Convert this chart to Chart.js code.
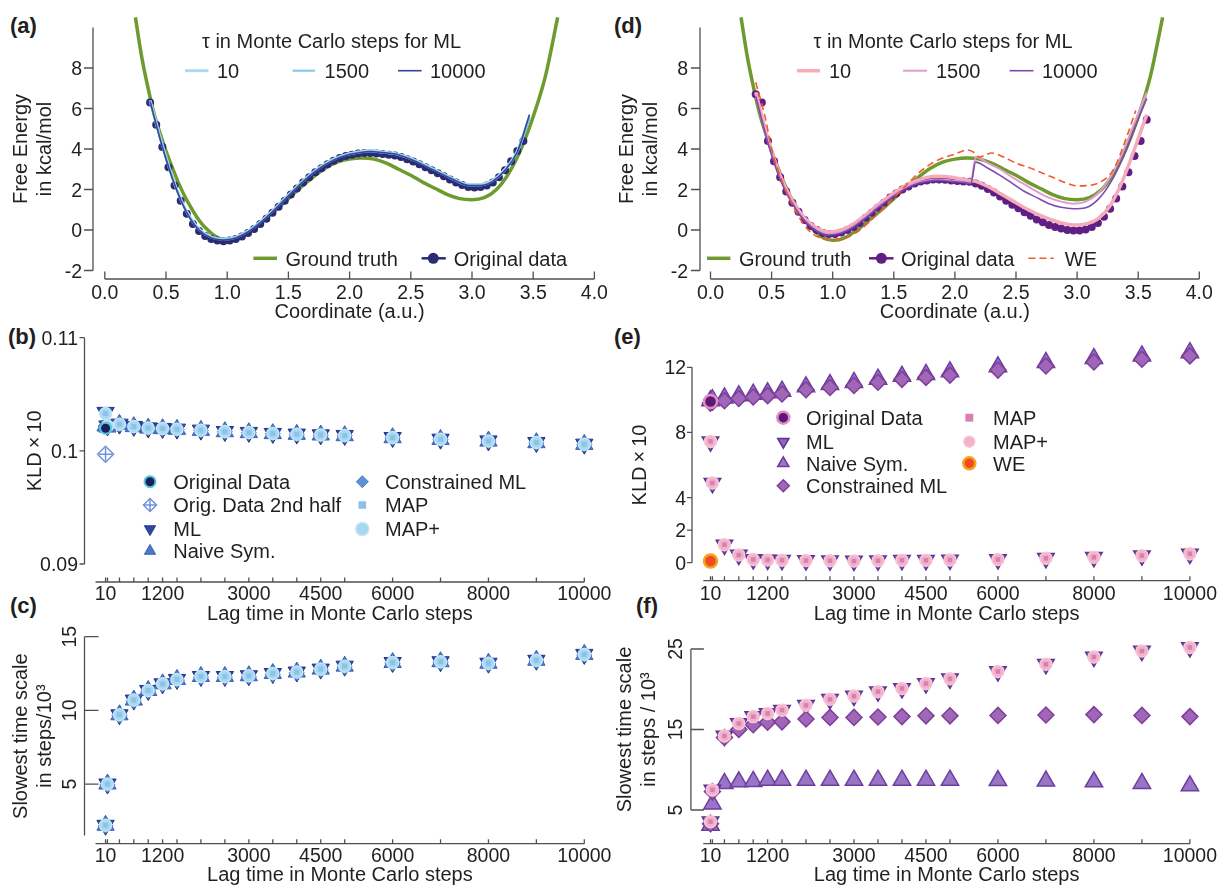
<!DOCTYPE html>
<html>
<head>
<meta charset="utf-8">
<script src="https://cdn.jsdelivr.net/npm/chart.js@4.4.1/dist/chart.umd.min.js"></script>
<style>
  body { margin: 0; background: #fff; width: 1218px; height: 888px; overflow: hidden; position: relative; }
  canvas { position: absolute; }
  .tag { position: absolute; font: bold 22px "Liberation Sans", Arial, sans-serif; line-height: 22px; color: #231f20; }
</style>
</head>
<body>
<div class="tag" style="left:10px;top:15px">(a)</div>
<div class="tag" style="left:614px;top:15px">(d)</div>
<div class="tag" style="left:8px;top:326px">(b)</div>
<div class="tag" style="left:614px;top:326px">(e)</div>
<div class="tag" style="left:10px;top:595px">(c)</div>
<div class="tag" style="left:636px;top:595px">(f)</div>

<canvas id="cb" width="630" height="310" style="left:0;top:325px"></canvas>
<canvas id="ce" width="618" height="310" style="left:600px;top:325px"></canvas>
<canvas id="cc" width="630" height="273" style="left:0;top:615px"></canvas>
<canvas id="cf" width="618" height="273" style="left:600px;top:615px"></canvas>
<canvas id="ca" width="630" height="330" style="left:0;top:0"></canvas>
<canvas id="cd" width="618" height="330" style="left:600px;top:0"></canvas>

<script>
const FONT = '"Liberation Sans", Arial, Helvetica, sans-serif';
const INK = '#231f20';
const AXIS = '#505050';

// ---------- free energy profiles (a), (d) ----------
const gtX = [0.25,0.3,0.35,0.4,0.45,0.5,0.55,0.6,0.65,0.7,0.75,0.8,0.85,0.9,0.95,1.0,1.05,1.1,1.15,1.2,1.3,1.4,1.5,1.6,1.7,1.8,1.9,2.0,2.1,2.2,2.3,2.4,2.5,2.6,2.7,2.8,2.9,3.0,3.1,3.2,3.3,3.4,3.5,3.6,3.7];
const gtY = [10.5,8.6,7.1,5.8,4.8,3.9,3.1,2.35,1.7,1.15,0.65,0.25,-0.05,-0.3,-0.45,-0.5,-0.48,-0.38,-0.2,0.0,0.5,1.0,1.55,2.1,2.6,3.05,3.35,3.5,3.55,3.5,3.3,3.0,2.7,2.35,2.05,1.75,1.55,1.5,1.6,2.0,2.8,4.0,5.6,7.6,10.5];

const aOrigX = [0.37,0.42,0.47,0.52,0.57,0.62,0.67,0.72,0.77,0.82,0.87,0.92,0.97,1.02,1.07,1.12,1.17,1.22,1.27,1.32,1.37,1.42,1.47,1.52,1.57,1.62,1.67,1.72,1.77,1.82,1.87,1.92,1.97,2.02,2.07,2.12,2.17,2.22,2.27,2.32,2.37,2.42,2.47,2.52,2.57,2.62,2.67,2.72,2.77,2.82,2.87,2.92,2.97,3.02,3.07,3.12,3.17,3.22,3.27,3.32,3.37,3.42];
const aOrigY = [6.3,5.2,4.1,3.1,2.2,1.45,0.8,0.3,-0.05,-0.3,-0.45,-0.52,-0.55,-0.52,-0.45,-0.32,-0.15,0.05,0.3,0.55,0.85,1.15,1.45,1.75,2.05,2.35,2.6,2.85,3.05,3.25,3.42,3.55,3.65,3.72,3.78,3.8,3.8,3.78,3.75,3.72,3.68,3.6,3.5,3.38,3.25,3.1,2.95,2.8,2.65,2.5,2.35,2.22,2.12,2.1,2.12,2.2,2.35,2.6,2.95,3.4,3.9,4.4];

const aMlX = [0.37,0.47,0.57,0.67,0.77,0.87,0.97,1.07,1.17,1.27,1.37,1.47,1.57,1.67,1.77,1.87,1.97,2.07,2.17,2.27,2.37,2.47,2.57,2.67,2.77,2.87,2.97,3.07,3.17,3.27,3.37,3.47];
const aMl10 = [6.4,4.2,2.3,0.9,0.05,-0.35,-0.45,-0.35,-0.05,0.4,0.95,1.55,2.15,2.7,3.15,3.5,3.72,3.85,3.92,3.85,3.78,3.6,3.35,3.05,2.75,2.45,2.25,2.25,2.45,3.0,3.9,5.6];
const aMl1500 = [6.3,4.15,2.25,0.88,0.02,-0.38,-0.48,-0.38,-0.08,0.38,0.92,1.52,2.12,2.68,3.12,3.48,3.7,3.82,3.88,3.82,3.75,3.57,3.32,3.02,2.72,2.42,2.2,2.2,2.42,2.95,3.85,5.5];
const aMl10000 = [6.35,4.1,2.25,0.85,0.0,-0.4,-0.5,-0.4,-0.1,0.35,0.9,1.5,2.1,2.65,3.1,3.45,3.68,3.8,3.88,3.82,3.75,3.55,3.3,3.0,2.7,2.42,2.2,2.2,2.4,2.95,3.85,5.7];

const dOrigX = [0.37,0.42,0.47,0.52,0.57,0.62,0.67,0.72,0.77,0.82,0.87,0.92,0.97,1.02,1.07,1.12,1.17,1.22,1.27,1.32,1.37,1.42,1.47,1.52,1.57,1.62,1.67,1.72,1.77,1.82,1.87,1.92,1.97,2.02,2.07,2.12,2.17,2.22,2.27,2.32,2.37,2.42,2.47,2.52,2.57,2.62,2.67,2.72,2.77,2.82,2.87,2.92,2.97,3.02,3.07,3.12,3.17,3.22,3.27,3.32,3.37,3.42,3.47,3.52,3.57];
const dOrigY = [6.7,6.3,4.4,3.4,2.6,1.9,1.35,0.9,0.5,0.2,0.0,-0.15,-0.2,-0.2,-0.12,0.0,0.15,0.35,0.6,0.85,1.1,1.35,1.6,1.8,2.0,2.15,2.3,2.4,2.45,2.5,2.5,2.48,2.45,2.42,2.4,2.38,2.3,2.18,2.02,1.85,1.65,1.45,1.25,1.08,0.88,0.7,0.52,0.38,0.25,0.15,0.07,0.0,-0.03,-0.03,0.02,0.15,0.35,0.65,1.05,1.55,2.15,2.85,3.65,4.4,5.45];

const dMl10X = [0.37,0.47,0.57,0.67,0.77,0.87,0.97,1.07,1.17,1.27,1.37,1.47,1.57,1.67,1.77,1.87,1.97,2.07,2.17,2.27,2.37,2.47,2.57,2.67,2.77,2.87,2.97,3.07,3.17,3.27,3.37,3.47,3.57];
const dMl10 = [6.8,4.5,2.7,1.45,0.6,0.1,-0.1,0.0,0.3,0.75,1.25,1.7,2.1,2.4,2.6,2.65,2.6,2.5,2.4,2.15,1.8,1.45,1.1,0.8,0.55,0.35,0.25,0.3,0.55,1.2,2.4,4.0,5.7];
const dMlJumpX = [0.37,0.47,0.57,0.67,0.77,0.87,0.97,1.07,1.17,1.27,1.37,1.47,1.57,1.67,1.77,1.87,1.97,2.07,2.13,2.17,2.27,2.37,2.47,2.57,2.67,2.77,2.87,2.97,3.07,3.17,3.27,3.37,3.47,3.57];
const dMl1500 = [6.7,4.4,2.6,1.4,0.5,0.0,-0.2,-0.1,0.2,0.65,1.15,1.6,2.0,2.3,2.45,2.5,2.45,2.4,2.35,3.6,3.3,3.0,2.6,2.25,1.9,1.6,1.4,1.3,1.4,1.8,2.6,3.8,5.3,6.8];
const dMl10000 = [6.6,4.3,2.5,1.3,0.45,-0.05,-0.25,-0.15,0.15,0.6,1.1,1.55,1.95,2.25,2.4,2.45,2.4,2.35,2.3,3.35,3.05,2.7,2.3,1.9,1.6,1.3,1.12,1.05,1.1,1.5,2.3,3.5,5.0,6.5];

const weX = [0.37,0.45,0.5,0.6,0.7,0.8,0.9,1.0,1.1,1.2,1.3,1.4,1.5,1.6,1.7,1.8,1.9,2.0,2.1,2.15,2.2,2.25,2.3,2.4,2.5,2.6,2.7,2.8,2.9,3.0,3.1,3.2,3.3,3.4,3.48];
const weY = [7.3,5.5,4.0,2.2,0.9,0.0,-0.4,-0.5,-0.4,-0.1,0.4,1.0,1.6,2.2,2.8,3.25,3.55,3.75,3.95,3.85,3.6,3.7,3.8,3.6,3.3,3.1,2.85,2.6,2.35,2.18,2.2,2.4,3.0,4.5,5.9];

// ---------- lag-time panels (b), (c), (e), (f) ----------
const lags = [10,50,300,600,900,1200,1500,2000,2500,3000,3500,4000,4500,5000,6000,7000,8000,9000,10000];
const lagTickLabels = ['10','','','','','1200','','','','3000','','','4500','','6000','','8000','','10000'];

const bML    = [0.1034,0.1022,0.10236,0.10216,0.10203,0.10198,0.10192,0.10183,0.10171,0.10163,0.10154,0.10148,0.10142,0.10136,0.10118,0.10103,0.10088,0.10074,0.10059];
const bNaive = [0.1022,0.1021,0.10234,0.10214,0.10201,0.10196,0.1019,0.10181,0.10169,0.10161,0.10152,0.10146,0.1014,0.10134,0.10116,0.10101,0.10086,0.10072,0.10057];
const bCon   = [0.1022,0.1021,0.10232,0.10212,0.102,0.10195,0.10189,0.1018,0.10168,0.1016,0.10151,0.10145,0.10139,0.10133,0.10115,0.101,0.10085,0.10071,0.10056];
const bMAP   = [0.1033,0.1022,0.10235,0.10215,0.10202,0.10197,0.10191,0.10182,0.1017,0.10162,0.10153,0.10147,0.10141,0.10135,0.10117,0.10102,0.10087,0.10073,0.10058];
const bMAPp  = [0.1033,0.1022,0.10235,0.10215,0.10202,0.10197,0.10191,0.10182,0.1017,0.10162,0.10153,0.10147,0.10141,0.10135,0.10117,0.10102,0.10087,0.10073,0.10058];
const bOrigX = [10], bOrigY = [0.102];
const b2ndX = [10], b2ndY = [0.0997];

const cML    = [2.2,5.0,9.7,10.7,11.35,11.8,12.1,12.3,12.3,12.35,12.5,12.6,12.8,13.0,13.25,13.3,13.2,13.4,13.8];
const cNaive = [2.2,5.0,9.7,10.7,11.35,11.8,12.1,12.3,12.3,12.35,12.5,12.6,12.8,13.0,13.25,13.3,13.2,13.4,13.8];
const cCon   = [2.15,4.95,9.65,10.65,11.3,11.75,12.05,12.25,12.25,12.3,12.45,12.55,12.75,12.95,13.2,13.25,13.15,13.35,13.75];
const cMAP   = [2.2,5.0,9.7,10.7,11.35,11.8,12.1,12.3,12.3,12.35,12.5,12.6,12.8,13.0,13.25,13.3,13.2,13.4,13.8];
const cMAPp  = [2.2,5.0,9.7,10.7,11.35,11.8,12.1,12.3,12.3,12.35,12.5,12.6,12.8,13.0,13.25,13.3,13.2,13.4,13.8];

const eNaive = [9.95,10.0,10.12,10.25,10.35,10.43,10.53,10.8,10.94,11.07,11.27,11.45,11.56,11.72,12.03,12.29,12.54,12.7,12.9];
const eCon   = [9.8,9.85,9.95,10.08,10.18,10.26,10.36,10.62,10.76,10.88,11.08,11.26,11.38,11.52,11.83,12.08,12.33,12.5,12.7];
const eML    = [7.43,4.88,1.09,0.47,0.2,0.17,0.15,0.13,0.12,0.1,0.12,0.15,0.15,0.17,0.2,0.27,0.33,0.43,0.53];
const eMAP   = [7.45,4.9,1.1,0.47,0.2,0.17,0.15,0.13,0.12,0.1,0.12,0.15,0.15,0.17,0.2,0.27,0.33,0.43,0.55];
const eMAPp  = [7.45,4.9,1.1,0.47,0.2,0.17,0.15,0.13,0.12,0.1,0.12,0.15,0.15,0.17,0.2,0.27,0.33,0.43,0.55];
const eOrigX = [10], eOrigY = [9.9];
const eWeX = [10], eWeY = [0.1];

const fML    = [3.55,7.5,14.2,15.75,16.6,17.0,17.4,18.0,18.75,19.15,19.7,20.1,20.7,21.3,22.2,23.1,24.0,24.75,25.2];
const fCon   = [3.3,7.3,14.0,15.0,15.6,15.9,15.95,16.3,16.5,16.5,16.55,16.6,16.7,16.7,16.75,16.8,16.85,16.75,16.6];
const fNaive = [3.1,5.75,8.3,8.5,8.55,8.7,8.7,8.7,8.7,8.7,8.7,8.7,8.7,8.7,8.65,8.6,8.5,8.3,8.0];
const fMAP   = [3.55,7.5,14.2,15.75,16.6,17.0,17.4,18.0,18.75,19.15,19.7,20.1,20.7,21.3,22.2,23.1,24.0,24.75,25.2];
const fMAPp  = [3.55,7.5,14.2,15.75,16.6,17.0,17.4,18.0,18.75,19.15,19.7,20.1,20.7,21.3,22.2,23.1,24.0,24.75,25.2];

// ---------- ticks ----------
const coordTicks = [0,0.5,1,1.5,2,2.5,3,3.5,4];
const coordTickLabels = ['0.0','0.5','1.0','1.5','2.0','2.5','3.0','3.5','4.0'];
const feTicks = [-2,0,2,4,6,8];
const feTickLabels = ['-2','0','2','4','6','8'];
const bTicks = [0.09,0.1,0.11];
const bTickLabels = ['0.09','0.1','0.11'];
const eTicks = [0,2,4,8,12];
const eTickLabels = ['0','2','4','8','12'];
const cTicks = [5,10,15];
const cTickLabels = ['5','10','15'];
const fTicks = [5,15,25];
const fTickLabels = ['5','15','25'];

function pts(xs, ys) { return xs.map((x, i) => ({ x: x, y: ys[i] })); }

function line(label, xs, ys, color, width, dash) {
  return { label, data: pts(xs, ys), showLine: true, borderColor: color, backgroundColor: color,
           borderWidth: width, borderDash: dash || [], pointRadius: 0,
           cubicInterpolationMode: 'monotone', clip: false };
}
// big hover radius only widens the "in area" test so marks just outside the axes still draw
function marks(label, xs, ys, style, r, fill, edge, bw, rot) {
  return { label, data: pts(xs, ys), showLine: false, pointStyle: style, pointRadius: r,
           pointHoverRadius: 40, pointRotation: rot || 0, pointBackgroundColor: fill, pointBorderColor: edge,
           pointBorderWidth: bw, backgroundColor: fill, borderColor: edge, clip: false };
}

function drawMark(ctx, d, x, y, r) {
  ctx.fillStyle = d.pointBackgroundColor;
  ctx.strokeStyle = d.pointBorderColor;
  ctx.lineWidth = d.pointBorderWidth;
  Chart.helpers.drawPoint(ctx, { pointStyle: d.pointStyle, rotation: d.pointRotation || 0,
    radius: r || d.pointRadius, borderWidth: d.pointBorderWidth }, x, y);
}

function text(ctx, s, x, y, size, align) {
  ctx.font = size + 'px ' + FONT;
  ctx.fillStyle = INK;
  ctx.textAlign = align || 'left';
  ctx.textBaseline = 'alphabetic';
  ctx.fillText(s, x, y + size * 0.36);
}

// offset axes: lines, tick marks and tick labels drawn on the chart's own scales
function axesPlugin(o) {
  return {
    id: 'axesStyle',
    afterDraw(chart) {
      const ctx = chart.ctx, xs = chart.scales.x, ys = chart.scales.y;
      ctx.save();
      ctx.strokeStyle = AXIS;
      ctx.lineWidth = 1.3;
      ctx.beginPath();
      ctx.moveTo(o.yLineX, ys.getPixelForValue(o.yRange[1]));
      ctx.lineTo(o.yLineX, ys.getPixelForValue(o.yRange[0]));
      o.yTicks.forEach(v => {
        const p = ys.getPixelForValue(v);
        ctx.moveTo(o.yLineX, p);
        ctx.lineTo(o.yLineX + o.yTickDir * o.yTickLen, p);
      });
      ctx.moveTo(xs.getPixelForValue(o.xRange[0]), o.xLineY);
      ctx.lineTo(xs.getPixelForValue(o.xRange[1]), o.xLineY);
      o.xTicks.forEach(v => {
        const p = xs.getPixelForValue(v);
        ctx.moveTo(p, o.xLineY);
        ctx.lineTo(p, o.xLineY - o.xTickLen);
      });
      ctx.stroke();

      o.yTicks.forEach((v, i) => {
        const p = ys.getPixelForValue(v);
        if (o.yRot) {
          ctx.save();
          ctx.translate(o.yLabelX, p);
          ctx.rotate(-Math.PI / 2);
          ctx.font = '19.5px ' + FONT;
          ctx.fillStyle = INK;
          ctx.textAlign = 'center';
          ctx.textBaseline = 'middle';
          ctx.fillText(o.yLabels[i], 0, 0);
          ctx.restore();
        } else {
          text(ctx, o.yLabels[i], o.yLabelX, p, 19.5, 'right');
        }
      });
      o.xTicks.forEach((v, i) => {
        if (o.xLabels[i]) text(ctx, o.xLabels[i], xs.getPixelForValue(v), o.xLabelY, 19.5, 'center');
      });
      ctx.restore();
    }
  };
}

// hand-placed legends, samples styled from the datasets themselves
function legendPlugin(items) {
  return {
    id: 'panelLegend',
    afterDraw(chart) {
      const ctx = chart.ctx;
      const find = l => chart.data.datasets.find(d => d.label === l);
      ctx.save();
      items.forEach(it => {
        [].concat(it.ds || []).forEach(l => {
          const d = find(l);
          if (it.x2 !== undefined) {
            ctx.strokeStyle = it.lineColor || d.borderColor;
            ctx.lineWidth = it.lineWidth || d.borderWidth;
            ctx.setLineDash(d.borderDash || []);
            ctx.beginPath();
            ctx.moveTo(it.x1, it.y);
            ctx.lineTo(it.x2, it.y);
            ctx.stroke();
            ctx.setLineDash([]);
          }
          if (it.mx !== undefined) drawMark(ctx, d, it.mx, it.y, it.r);
        });
        if (it.text) text(ctx, it.text, it.tx, it.y, 20, it.align);
      });
      ctx.restore();
    }
  };
}

function makeChart(id, c) {
  return new Chart(document.getElementById(id), {
    type: 'scatter',
    data: { datasets: c.datasets },
    options: {
      responsive: false,
      animation: false,
      events: [],
      layout: { padding: c.pad, autoPadding: false },
      plugins: { legend: { display: false }, tooltip: { enabled: false } },
      scales: {
        x: {
          type: 'linear', min: c.x[0], max: c.x[1],
          grid: { display: false, drawTicks: false }, border: { display: false }, ticks: { display: false },
          title: { display: true, text: c.xTitle, color: INK, font: { family: FONT, size: 20, lineHeight: 1.2 }, padding: { top: 0, bottom: 0 } },
          afterFit: s => { s.height = c.xH; }
        },
        y: {
          type: 'linear', min: c.y[0], max: c.y[1],
          grid: { display: false, drawTicks: false }, border: { display: false }, ticks: { display: false },
          title: { display: true, text: c.yTitle, color: INK, font: { family: FONT, size: 20, lineHeight: 1.2 }, padding: { top: c.yTitlePad, bottom: 0 } },
          afterFit: s => { s.width = c.yW; }
        }
      }
    },
    plugins: [axesPlugin(c.axes), legendPlugin(c.legend)]
  });
}

// ---------- (a) ----------
makeChart('ca', {
  x: [0, 4], y: [-2, 10], yW: 104.8, xH: 54.2, pad: { left: 0, top: 27.5, right: 35.6, bottom: 5.3 },
  xTitle: 'Coordinate (a.u.)', yTitle: ['Free Energy', 'in kcal/mol'], yTitlePad: 9.5,
  datasets: [
    line('ML 10000', aMlX, aMl10000, '#33459b', 1.6),
    line('ML 1500', aMlX, aMl1500, '#86c3e8', 2),
    line('ML 10', aMlX, aMl10, '#a9dcf1', 3),
    marks('Original data', aOrigX, aOrigY, 'circle', 4, '#2a2b72', '#2a2b72', 0),
    line('Ground truth', gtX, gtY, '#6e9a2e', 3.5)
  ],
  axes: { yLineX: 93, yRange: [-2, 10], yTicks: feTicks, yLabels: feTickLabels, yTickDir: -1, yTickLen: 9, yLabelX: 82,
          xLineY: 279, xRange: [0, 4], xTicks: coordTicks, xLabels: coordTickLabels, xTickLen: 7.5, xLabelY: 291.7 },
  legend: [
    { text: '\u03c4 in Monte Carlo steps for ML', tx: 331.5, y: 40.7, align: 'center' },
    { ds: 'ML 10', x1: 185, x2: 208.5, y: 70.7, text: '10', tx: 217 },
    { ds: 'ML 1500', x1: 292.5, x2: 315, y: 70.7, text: '1500', tx: 324.6 },
    { ds: 'ML 10000', x1: 398, x2: 421.6, y: 70.7, text: '10000', tx: 430 },
    { ds: 'Ground truth', x1: 253.4, x2: 277, y: 258.3, text: 'Ground truth', tx: 285.5 },
    { ds: 'Original data', x1: 421.6, x2: 445.8, mx: 433.3, r: 5.5, lineColor: '#2a2b72', lineWidth: 2.5, y: 258.3, text: 'Original data', tx: 453.7 }
  ]
});

// ---------- (d) ----------
makeChart('cd', {
  x: [0, 4], y: [-2, 10], yW: 110.5, xH: 54.2, pad: { left: 0, top: 27.5, right: 18.7, bottom: 5.3 },
  xTitle: 'Coordinate (a.u.)', yTitle: ['Free Energy', 'in kcal/mol'], yTitlePad: 15.5,
  datasets: [
    line('WE', weX, weY, '#f15a2b', 1.6, [7, 4]),
    line('ML 10000', dMlJumpX, dMl10000, '#7a4ab0', 1.6),
    line('ML 1500', dMlJumpX, dMl1500, '#e39bcb', 2),
    line('ML 10', dMl10X, dMl10, '#f5abb9', 3.5),
    marks('Original data', dOrigX, dOrigY, 'circle', 4, '#5f1f83', '#5f1f83', 0),
    line('Ground truth', gtX, gtY, '#6e9a2e', 3.5)
  ],
  axes: { yLineX: 100, yRange: [-2, 10], yTicks: feTicks, yLabels: feTickLabels, yTickDir: -1, yTickLen: 9, yLabelX: 88.2,
          xLineY: 279, xRange: [0, 4], xTicks: coordTicks, xLabels: coordTickLabels, xTickLen: 7.5, xLabelY: 291.7 },
  legend: [
    { text: '\u03c4 in Monte Carlo steps for ML', tx: 343, y: 40.7, align: 'center' },
    { ds: 'ML 10', x1: 197, x2: 220, y: 70.7, text: '10', tx: 229 },
    { ds: 'ML 1500', x1: 303, x2: 327, y: 70.7, text: '1500', tx: 336 },
    { ds: 'ML 10000', x1: 409.6, x2: 433.5, y: 70.7, text: '10000', tx: 442 },
    { ds: 'Ground truth', x1: 107, x2: 130.4, y: 258.3, text: 'Ground truth', tx: 139 },
    { ds: 'Original data', x1: 269, x2: 293.5, mx: 281.4, r: 5.5, lineColor: '#5f1f83', lineWidth: 2.5, y: 258.3, text: 'Original data', tx: 301 },
    { ds: 'WE', x1: 428.4, x2: 453.8, y: 258.3, text: 'WE', tx: 464.8 }
  ]
});

// ---------- blue marker set (b), (c) ----------
function blueSet(ml, naive, con, map, mapp) {
  return [
    marks('MAP', lags, map, 'rect', 3.5, '#8dc2e7', '#8dc2e7', 0),
    marks('MAP+', lags, mapp, 'circle', 6, '#a8d8f1', '#c2e5f6', 1.5),
    marks('Constrained ML', lags, con, 'rectRot', 7.5, '#5d93d4', '#4f83c8', 1),
    marks('Naive Sym.', lags, naive, 'triangle', 10, '#4e78c6', '#3b62b4', 1),
    marks('ML', lags, ml, 'triangle', 10, '#3047a0', '#24368c', 1, 180)
  ];
}

makeChart('cb', {
  x: [-200, 10000], y: [0.09, 0.11], yW: 95.5, xH: 62.3, pad: { left: 0, top: 12.7, right: 45.7, bottom: 8.7 },
  xTitle: 'Lag time in Monte Carlo steps', yTitle: 'KLD\u2009\u00d7\u200910', yTitlePad: 23.2,
  datasets: [
    marks('Original Data', bOrigX, bOrigY, 'circle', 5.5, '#1d1f5c', '#5ac7d7', 2),
    marks('2nd cross', b2ndX, b2ndY, 'cross', 6.5, 'rgba(0,0,0,0)', '#6f93d8', 1.5),
    marks('Orig. Data 2nd half', b2ndX, b2ndY, 'rectRot', 8, 'rgba(0,0,0,0)', '#6f93d8', 1.5)
  ].concat(blueSet(bML, bNaive, bCon, bMAP, bMAPp)),
  axes: { yLineX: 84.5, yRange: [0.09, 0.11], yTicks: bTicks, yLabels: bTickLabels, yTickDir: -1, yTickLen: 5, yLabelX: 78,
          xLineY: 257, xRange: [-200, 10000], xTicks: lags, xLabels: lagTickLabels, xTickLen: 4.5, xLabelY: 268.3 },
  legend: [
    { ds: 'Original Data', mx: 150, r: 5.5, y: 156.7, text: 'Original Data', tx: 173.3 },
    { ds: ['Orig. Data 2nd half', '2nd cross'], mx: 150, r: 6.5, y: 180, text: 'Orig. Data 2nd half', tx: 173.3 },
    { ds: 'ML', mx: 150, r: 6.5, y: 204, text: 'ML', tx: 173.3 },
    { ds: 'Naive Sym.', mx: 150, r: 6.5, y: 226, text: 'Naive Sym.', tx: 173.3 },
    { ds: 'Constrained ML', mx: 362.3, r: 6, y: 156.7, text: 'Constrained ML', tx: 385 },
    { ds: 'MAP', mx: 362.3, r: 5.4, y: 180, text: 'MAP', tx: 385 },
    { ds: 'MAP+', mx: 362.3, r: 6.5, y: 204, text: 'MAP+', tx: 385 }
  ]
});

makeChart('cc', {
  x: [-200, 10000], y: [1.5, 15], yW: 95.5, xH: 51.4, pad: { left: 0, top: 21.7, right: 45.7, bottom: 1 },
  xTitle: 'Lag time in Monte Carlo steps', yTitle: ['Slowest time scale', 'in steps/10\u00b3'], yTitlePad: 9.5,
  datasets: blueSet(cML, cNaive, cCon, cMAP, cMAPp),
  axes: { yLineX: 84.5, yRange: [1.5, 15], yTicks: cTicks, yLabels: cTickLabels, yTickDir: 1, yTickLen: 14, yLabelX: 71, yRot: true,
          xLineY: 228.7, xRange: [-200, 10000], xTicks: lags, xLabels: lagTickLabels, xTickLen: 4.5, xLabelY: 240 },
  legend: []
});

// ---------- purple marker set (e), (f) ----------
function purpleSet(ml, naive, con, map, mapp) {
  return [
    marks('MAP', lags, map, 'rect', 3.2, '#d87fb6', '#b964a8', 0),
    marks('MAP+', lags, mapp, 'circle', 6, '#f2b2c9', '#f7c7d7', 1.5),
    marks('Constrained ML', lags, con, 'rectRot', 8, '#a067b8', '#7f3e9a', 1.5),
    marks('ML', lags, ml, 'triangle', 9.5, '#8a69bf', '#5f3294', 1.5, 180),
    marks('Naive Sym.', lags, naive, 'triangle', 10, '#9a74c6', '#6d3d9f', 1.5)
  ];
}

makeChart('ce', {
  x: [-140, 10000], y: [0, 12], yW: 103.3, xH: 63.6, pad: { left: 0, top: 42.3, right: 28.1, bottom: 8.7 },
  xTitle: 'Lag time in Monte Carlo steps', yTitle: 'KLD\u2009\u00d7\u200910', yTitlePad: 28,
  datasets: [
    marks('Original Data', eOrigX, eOrigY, 'circle', 6.5, '#5b1876', '#e18dc4', 2.5),
    marks('WE', eWeX, eWeY, 'circle', 6.5, '#f04a22', '#f6a21d', 2.5)
  ].concat(purpleSet(eML, eNaive, eCon, eMAP, eMAPp)),
  axes: { yLineX: 92, yRange: [0, 12], yTicks: eTicks, yLabels: eTickLabels, yTickDir: -1, yTickLen: 5, yLabelX: 86.2,
          xLineY: 255.7, xRange: [-140, 10000], xTicks: lags, xLabels: lagTickLabels, xTickLen: 4.5, xLabelY: 268.3 },
  legend: [
    { ds: 'Original Data', mx: 183.3, r: 6, y: 92.7, text: 'Original Data', tx: 206 },
    { ds: 'ML', mx: 183.3, r: 6.5, y: 116.7, text: 'ML', tx: 206 },
    { ds: 'Naive Sym.', mx: 183.3, r: 6.5, y: 138.3, text: 'Naive Sym.', tx: 206 },
    { ds: 'Constrained ML', mx: 183.3, r: 6, y: 160.7, text: 'Constrained ML', tx: 206 },
    { ds: 'MAP', mx: 369.3, r: 5.6, y: 92.7, text: 'MAP', tx: 393 },
    { ds: 'MAP+', mx: 369.3, r: 5.5, y: 116.7, text: 'MAP+', tx: 393 },
    { ds: 'WE', mx: 369.3, r: 6, y: 138.3, text: 'WE', tx: 393 }
  ]
});

makeChart('cf', {
  x: [-140, 10000], y: [5, 25], yW: 103.3, xH: 77, pad: { left: 0, top: 34, right: 28.1, bottom: 1 },
  xTitle: 'Lag time in Monte Carlo steps', yTitle: ['Slowest time scale', 'in steps / 10\u00b3'], yTitlePad: 13.7,
  datasets: purpleSet(fML, fNaive, fCon, fMAP, fMAPp),
  axes: { yLineX: 90.9, yRange: [5, 25], yTicks: fTicks, yLabels: fTickLabels, yTickDir: 1, yTickLen: 13, yLabelX: 77, yRot: true,
          xLineY: 228.7, xRange: [-140, 10000], xTicks: lags, xLabels: lagTickLabels, xTickLen: 4.5, xLabelY: 240 },
  legend: []
});
</script>
</body>
</html>
